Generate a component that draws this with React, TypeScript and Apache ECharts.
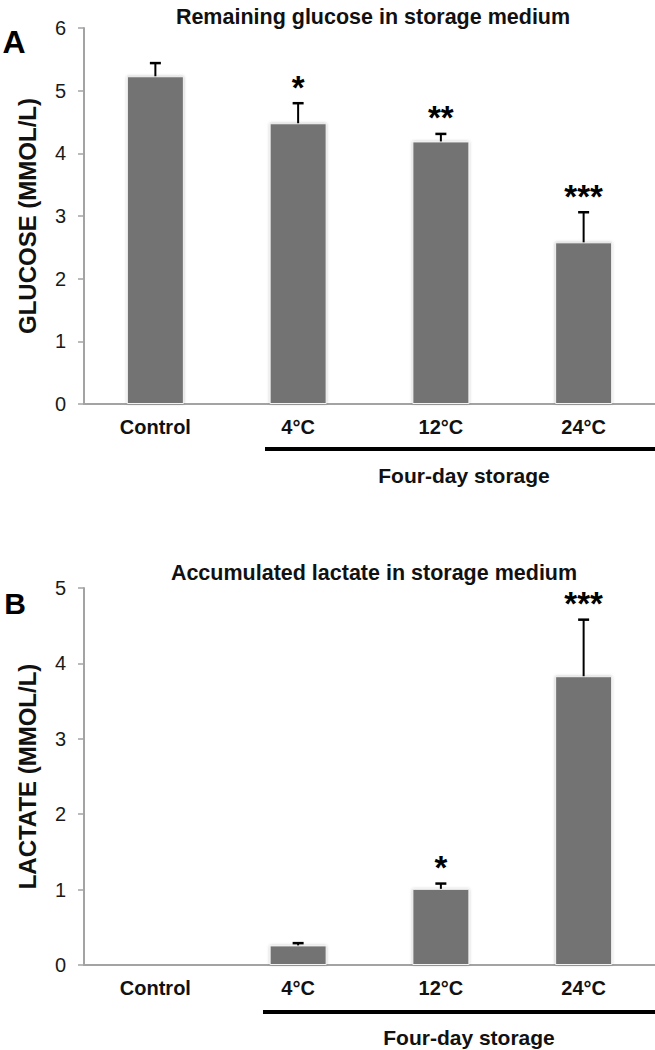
import React, { useEffect, useRef } from "react";
import * as echarts from "echarts";

const categories = ["Control", "4°C", "12°C", "24°C"];

const glucoseMean = [5.23, 4.48, 4.19, 2.58];
const glucoseSD = [0.21, 0.32, 0.12, 0.48];
const glucoseSig = ["", "*", "**", "***"];

const lactateMean = [0, 0.26, 1.01, 3.83];
const lactateSD = [0, 0.03, 0.07, 0.75];
const lactateSig = ["", "", "*", "***"];

const glucoseMax = 6;
const lactateMax = 5;

const titleA = "Remaining glucose in storage medium";
const titleB = "Accumulated lactate in storage medium";
const yNameA = "GLUCOSE (MMOL/L)";
const yNameB = "LACTATE (MMOL/L)";
const groupLabel = "Four-day storage";

const FONT = "'Liberation Sans', Arial, Helvetica, sans-serif";
const BAR_COLOR = "#737373";
const AXIS_COLOR = "#a3a3a3";

function errRender(sigs: string[]) {
  return (params: any, api: any) => {
    const i = api.value(0);
    const m = api.value(1);
    const e = api.value(2);
    const base = api.coord([i, m]);
    const top = api.coord([i, m + e]);
    const children: any[] = [];
    if (e > 0) {
      children.push({
        type: "line",
        shape: { x1: base[0], y1: base[1], x2: top[0], y2: top[1] },
        style: { stroke: "#000", lineWidth: 2 },
      });
      children.push({
        type: "line",
        shape: { x1: top[0] - 5.5, y1: top[1], x2: top[0] + 5.5, y2: top[1] },
        style: { stroke: "#000", lineWidth: 2.5 },
      });
    }
    const s = sigs[params.dataIndex];
    if (s) {
      children.push({
        type: "text",
        x: top[0],
        y: top[1] - 16,
        style: {
          text: s,
          fontSize: 33,
          fontWeight: "bold",
          fontFamily: FONT,
          fill: "#000",
          align: "center",
          verticalAlign: "middle",
        },
      });
    }
    return { type: "group", children };
  };
}

function makeXAxis(gridIndex: number) {
  return {
    type: "category",
    gridIndex,
    data: categories,
    axisLine: { lineStyle: { color: AXIS_COLOR, width: 2 } },
    axisTick: { show: false },
    axisLabel: {
      color: "#111",
      fontSize: 20,
      fontWeight: "bold",
      fontFamily: FONT,
      margin: 13,
    },
  };
}

function makeYAxis(gridIndex: number, max: number, name: string) {
  return {
    type: "value",
    gridIndex,
    min: 0,
    max,
    interval: 1,
    name,
    nameLocation: "middle",
    nameGap: 45,
    nameTextStyle: {
      color: "#111",
      fontSize: 24,
      fontWeight: "bold",
      fontFamily: FONT,
    },
    splitLine: { show: false },
    axisLine: { show: true, lineStyle: { color: AXIS_COLOR, width: 2 } },
    axisTick: { show: true, length: 6, lineStyle: { color: AXIS_COLOR, width: 1.5 } },
    axisLabel: {
      color: "#1a1a1a",
      fontSize: 20,
      fontFamily: FONT,
      margin: 18,
    },
  };
}

const barItemStyle = {
  color: BAR_COLOR,
  borderColor: "#f2f2f2",
  borderWidth: 1,
  shadowBlur: 3,
  shadowColor: "rgba(0,0,0,0.25)",
};

export default function App() {
  const ref = useRef<HTMLDivElement>(null);

  useEffect(() => {
    if (!ref.current) return;
    const chart = echarts.init(ref.current, undefined, { renderer: "svg" });
    const option: any = {
      animation: false,
      backgroundColor: "#ffffff",
      title: [
        {
          text: titleA,
          left: 368,
          top: 1,
          textAlign: "center",
          textStyle: { fontSize: 21.5, fontWeight: "bold", color: "#111", fontFamily: FONT },
        },
        {
          text: titleB,
          left: 369,
          top: 557,
          textAlign: "center",
          textStyle: { fontSize: 21.5, fontWeight: "bold", color: "#111", fontFamily: FONT },
        },
      ],
      grid: [
        { left: 84, top: 28, width: 600, height: 376 },
        { left: 84, top: 588, width: 600, height: 377 },
      ],
      xAxis: [makeXAxis(0), makeXAxis(1)],
      yAxis: [
        makeYAxis(0, glucoseMax, yNameA),
        makeYAxis(1, lactateMax, yNameB),
      ],
      series: [
        {
          type: "bar",
          xAxisIndex: 0,
          yAxisIndex: 0,
          data: glucoseMean,
          barWidth: 57,
          itemStyle: barItemStyle,
        },
        {
          type: "custom",
          xAxisIndex: 0,
          yAxisIndex: 0,
          data: glucoseMean.map((m, i) => [i, m, glucoseSD[i]]),
          encode: { x: 0, y: 1 },
          renderItem: errRender(glucoseSig),
          z: 5,
        },
        {
          type: "bar",
          xAxisIndex: 1,
          yAxisIndex: 1,
          data: lactateMean,
          barWidth: 57,
          itemStyle: barItemStyle,
        },
        {
          type: "custom",
          xAxisIndex: 1,
          yAxisIndex: 1,
          data: lactateMean.map((m, i) => [i, m, lactateSD[i]]),
          encode: { x: 0, y: 1 },
          renderItem: errRender(lactateSig),
          z: 5,
        },
      ],
      graphic: [
        {
          type: "text",
          x: 14,
          y: 42,
          style: {
            text: "A",
            fontSize: 32,
            fontWeight: "bold",
            fontFamily: FONT,
            fill: "#000",
            align: "center",
            verticalAlign: "middle",
          },
        },
        {
          type: "text",
          x: 15,
          y: 603,
          style: {
            text: "B",
            fontSize: 30,
            fontWeight: "bold",
            fontFamily: FONT,
            fill: "#000",
            align: "center",
            verticalAlign: "middle",
          },
        },
        {
          type: "line",
          shape: { x1: 265, y1: 449, x2: 655, y2: 449 },
          style: { stroke: "#000", lineWidth: 4 },
        },
        {
          type: "line",
          shape: { x1: 263, y1: 1012, x2: 655, y2: 1012 },
          style: { stroke: "#000", lineWidth: 4 },
        },
        {
          type: "text",
          x: 464,
          y: 475,
          style: {
            text: groupLabel,
            fontSize: 21,
            fontWeight: "bold",
            fontFamily: FONT,
            fill: "#111",
            align: "center",
            verticalAlign: "middle",
          },
        },
        {
          type: "text",
          x: 469,
          y: 1037,
          style: {
            text: groupLabel,
            fontSize: 21,
            fontWeight: "bold",
            fontFamily: FONT,
            fill: "#111",
            align: "center",
            verticalAlign: "middle",
          },
        },
      ],
    };
    chart.setOption(option);
    return () => {
      chart.dispose();
    };
  }, []);

  return (
    <div
      ref={ref}
      style={{ position: "fixed", left: 0, top: 0, width: 655, height: 1050, background: "#fff" }}
    />
  );
}
